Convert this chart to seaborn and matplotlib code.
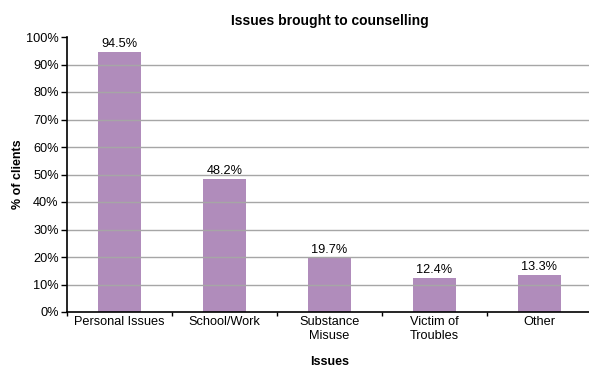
import matplotlib
matplotlib.use("Agg")
import matplotlib.pyplot as plt
import seaborn as sns
import pandas as pd
import numpy as np
from matplotlib.ticker import FixedLocator, NullFormatter

categories = ["Personal Issues", "School/Work", "Substance\nMisuse", "Victim of\nTroubles", "Other"]
values = [94.5, 48.2, 19.7, 12.4, 13.3]
y_ticks = [0, 10, 20, 30, 40, 50, 60, 70, 80, 90, 100]

sns.set_theme(style="white")
plt.rcParams["font.family"] = ["Liberation Sans", "DejaVu Sans"]
plt.rcParams["text.color"] = "black"
plt.rcParams["axes.labelcolor"] = "black"
plt.rcParams["xtick.color"] = "black"
plt.rcParams["ytick.color"] = "black"

df = pd.DataFrame({"issue": categories, "pct": values})

fig = plt.figure(figsize=(5.89, 3.67), dpi=100)
ax = fig.add_axes([67 / 589, 1 - 312 / 367, 525 / 589, 275 / 367])

sns.barplot(data=df, x="issue", y="pct", color="#b08cbb", saturation=1,
            width=0.41, linewidth=0, ax=ax, zorder=1)

ax.set_ylim(0, 100)
ax.set_xlim(-0.5, 4.5)
ax.set_yticks(y_ticks)
ax.set_yticklabels([f"{t}%" for t in y_ticks], fontsize=9.2)
ax.tick_params(axis="y", length=4, width=1, color="black", pad=2, left=True)
ax.tick_params(axis="x", length=0, pad=3, labelsize=9.2)
ax.xaxis.set_minor_locator(FixedLocator(np.arange(-0.5, 5, 1)))
ax.xaxis.set_minor_formatter(NullFormatter())
ax.tick_params(axis="x", which="minor", length=3, width=1, color="black", bottom=True)

for t in y_ticks[1:-1]:
    ax.axhline(t, color="#a6a6a6", lw=1, zorder=2)

for i, v in enumerate(values):
    ax.text(i, v + 0.8, f"{v}%", ha="center", va="bottom", fontsize=9.2, color="black", zorder=3)

for side in ["top", "right"]:
    ax.spines[side].set_visible(False)
for side in ["left", "bottom"]:
    ax.spines[side].set_color("black")
    ax.spines[side].set_linewidth(1.2)
    ax.spines[side].set_zorder(4)

ax.set_ylabel("% of clients", fontsize=9, fontweight="bold")
ax.yaxis.set_label_coords(-0.082, 0.5)
ax.set_xlabel("Issues", fontsize=9, fontweight="bold")
ax.xaxis.set_label_coords(0.5, -0.16)
ax.set_title("Issues brought to counselling", fontsize=10, fontweight="bold", pad=9)

fig.savefig("out.png", dpi=100)
